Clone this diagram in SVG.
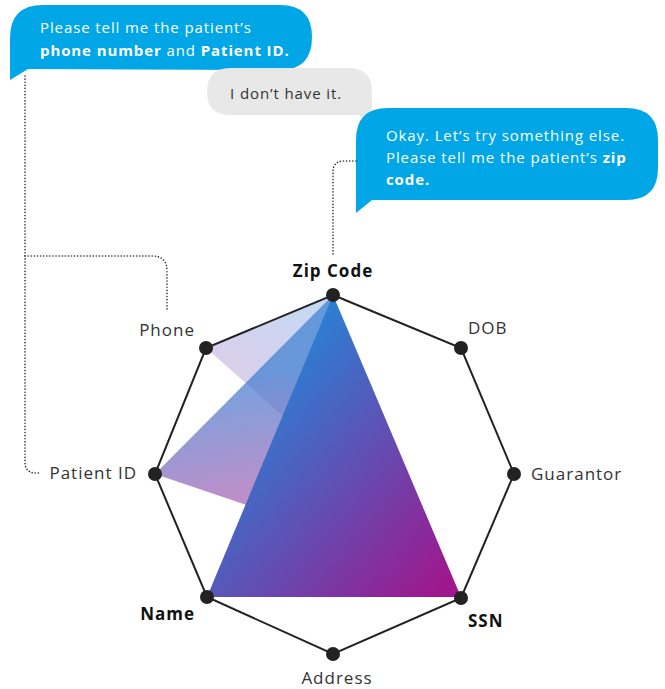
<svg xmlns="http://www.w3.org/2000/svg" width="665" height="689" viewBox="0 0 665 689">
<style>
text{font-family:"Open Sans","Lato","Liberation Sans",sans-serif;}
.bt{fill:#ffffff;font-size:15px;letter-spacing:0.9px;font-weight:400;}
.gt{fill:#333333;font-size:15px;letter-spacing:0.9px;font-weight:400;}
.lbl{fill:#333333;font-size:17px;letter-spacing:1px;font-weight:400;}
.blbl{fill:#111111;font-size:17px;letter-spacing:1px;font-weight:700;}
.b{font-weight:700;}
.dot{stroke:#333333;stroke-width:1.6;fill:none;stroke-dasharray:0.1 3;stroke-linecap:round;}
.edge{stroke:#222222;stroke-width:2;fill:none;}
.node{fill:#222222;}
</style>
<defs>
<linearGradient id="gLight" gradientUnits="userSpaceOnUse" x1="333" y1="295" x2="240" y2="430">
<stop offset="0" stop-color="#c3daf3"/>
<stop offset="1" stop-color="#e2cce8"/>
</linearGradient>
<linearGradient id="gMed" gradientUnits="userSpaceOnUse" x1="225" y1="380" x2="250" y2="510">
<stop offset="0" stop-color="#3f7fd2"/>
<stop offset="1" stop-color="#b060b0"/>
</linearGradient>
<linearGradient id="gBig" gradientUnits="userSpaceOnUse" x1="260" y1="380" x2="470" y2="560">
<stop offset="0" stop-color="#2a80d4"/>
<stop offset="1" stop-color="#a0168c"/>
</linearGradient>
</defs>

<g id="bubble1">
<path d="M10,80 L10,38 Q10,5 43,5 L280,5 Q312,5 312,37 Q312,70 280,70 L28,69 Z" fill="#00a6e6"/>
<text class="bt" x="40" y="33">Please tell me the patient’s</text>
<text class="bt" x="40" y="56"><tspan class="b">phone number</tspan> and <tspan class="b">Patient ID.</tspan></text>
</g>

<g id="bubble2">
<path d="M230,68 L348,68 Q372,68 372,92 L372,127 L359,115 L230,115 Q207,115 207,92 Q207,68 230,68 Z" fill="#e8e8e8"/>
<text class="gt" x="230" y="99">I don’t have it.</text>
</g>

<g id="bubble3">
<path d="M356,213 L356,140 Q356,108 388,108 L626,108 Q658,108 658,140 L658,168 Q658,200 626,200 L372,200 Z" fill="#00a6e6"/>
<text class="bt" x="386" y="141">Okay. Let’s try something else.</text>
<text class="bt" x="386" y="163">Please tell me the patient’s <tspan class="b">zip</tspan></text>
<text class="bt" x="386" y="185"><tspan class="b">code.</tspan></text>
</g>

<g id="connectors">
<path class="dot" d="M25,76 L25,462 Q25,473 36,473 L40,473"/>
<path class="dot" d="M25,256 L152,256 Q167,256 167,271 L167,312"/>
<path class="dot" d="M333,254 L333,172 Q333,161 344,161 L356,161"/>
</g>

<g id="chart">
<polygon points="333,295 206,348 333,460" fill="url(#gLight)"/>
<polygon points="333,295 155,474 320,530" fill="url(#gMed)" fill-opacity="0.72"/>
<polygon points="333,295 207,597 461,597" fill="url(#gBig)"/>
<polygon class="edge" points="333,295 461,348 514,474 461,598 333,654 207,597 155,474 206,348"/>
</g>

<g id="n-zip"><circle class="node" cx="333" cy="295" r="7"/><text class="blbl" x="333" y="277" text-anchor="middle">Zip Code</text></g>
<g id="n-dob"><circle class="node" cx="461" cy="348" r="7"/><text class="lbl" x="468" y="334">DOB</text></g>
<g id="n-guarantor"><circle class="node" cx="514" cy="474" r="7"/><text class="lbl" x="531" y="480">Guarantor</text></g>
<g id="n-ssn"><circle class="node" cx="461" cy="598" r="7"/><text class="blbl" x="468" y="627">SSN</text></g>
<g id="n-address"><circle class="node" cx="333" cy="654" r="7"/><text class="lbl" x="337" y="684" text-anchor="middle">Address</text></g>
<g id="n-name"><circle class="node" cx="207" cy="597" r="7"/><text class="blbl" x="195" y="620" text-anchor="end">Name</text></g>
<g id="n-patientid"><circle class="node" cx="155" cy="474" r="7"/><text class="lbl" x="137" y="479" text-anchor="end">Patient ID</text></g>
<g id="n-phone"><circle class="node" cx="206" cy="348" r="7"/><text class="lbl" x="195" y="336" text-anchor="end">Phone</text></g>
</svg>
